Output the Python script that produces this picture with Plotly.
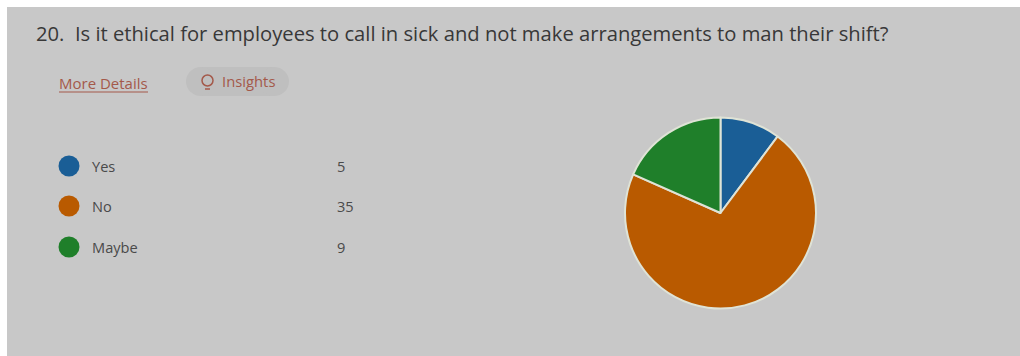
import plotly.graph_objects as go

W, H = 1020, 356

question = "20.  Is it ethical for employees to call in sick and not make arrangements to man their shift?"
categories = ["Yes", "No", "Maybe"]
counts = [5, 35, 9]
colors = ["#1a5e96", "#b95a00", "#1f7f2a"]

FONT = "Open Sans, Noto Sans, sans-serif"
PANEL = "#c8c8c8"
LINK = "#a4594a"


def px(x):
    return x / W


def py(y):
    return 1 - y / H


def text(x, y, s, size, color, anchor="left"):
    return dict(x=px(x), y=py(y), xref="paper", yref="paper", text=s, showarrow=False,
                xanchor=anchor, yanchor="middle", font=dict(family=FONT, size=size, color=color))


def box(kind, x0, y0, x1, y1, **style):
    return dict(type=kind, xref="paper", yref="paper", x0=px(x0), x1=px(x1), y0=py(y0), y1=py(y1), **style)


fig = go.Figure(go.Pie(
    labels=categories,
    values=counts,
    sort=False,
    direction="clockwise",
    rotation=0,
    textinfo="none",
    hoverinfo="label+value",
    marker=dict(colors=colors, line=dict(color="#dfe3d6", width=2)),
    domain=dict(x=[px(625), px(816)], y=[py(309), py(117)]),
))

no_line = dict(width=0)
shapes = [
    # card background
    box("rect", 7, 7, W + 2, H + 2, fillcolor=PANEL, line=no_line, layer="below"),
    # "More Details" underline
    box("line", 59, 92, 148, 92, line=dict(color=LINK, width=1)),
    # "Insights" pill: a bar with two round caps
    box("rect", 201, 67, 274, 96, fillcolor="#bfbfbf", line=no_line, layer="below"),
    box("circle", 186, 67, 216, 96, fillcolor="#bfbfbf", line=no_line, layer="below"),
    box("circle", 259, 67, 289, 96, fillcolor="#bfbfbf", line=no_line, layer="below"),
    # lightbulb icon
    box("circle", 202, 75, 213, 86, fillcolor="rgba(0,0,0,0)", line=dict(color=LINK, width=1.5)),
    box("line", 205, 89, 210, 89, line=dict(color=LINK, width=1.5)),
]

annotations = [
    text(34, 33, question, 20.2, "#383838"),
    text(57, 83, "More Details", 15, LINK),
    text(220, 81, "Insights", 14.8, LINK),
]

# legend rows: swatch, label, count
for row_y, label, count, color in zip([166, 206, 247], categories, counts, colors):
    shapes.append(box("circle", 58.5, row_y - 10.5, 79.5, row_y + 10.5, fillcolor=color, line=no_line))
    annotations.append(text(90, row_y, label, 14.6, "#4a4a4a"))
    annotations.append(text(335, row_y, str(count), 14.6, "#4a4a4a"))

fig.update_layout(
    width=W,
    height=H,
    margin=dict(l=0, r=0, t=0, b=0),
    paper_bgcolor="#ffffff",
    showlegend=False,
    shapes=shapes,
    annotations=annotations,
)

fig.write_html("out.html", config=dict(displayModeBar=False))
